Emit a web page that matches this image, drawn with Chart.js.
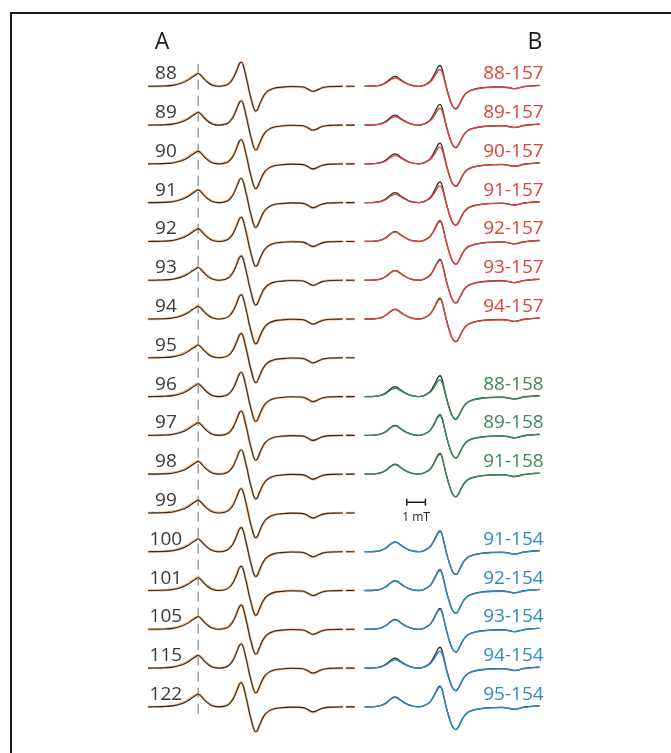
<!DOCTYPE html>
<html>
<head>
<meta charset="utf-8">
<script src="https://cdn.jsdelivr.net/npm/chart.js@4/dist/chart.umd.min.js"></script>
<style>
  html, body { margin: 0; padding: 0; background: #fff; width: 671px; height: 753px; overflow: hidden; }
  #frame { position: absolute; left: 10px; top: 12px; width: 720px; height: 800px;
           border-top: 2px solid #1c1c1c; border-left: 2px solid #1c1c1c; box-sizing: border-box; }
  #c { position: absolute; left: 0; top: 0; }
</style>
</head>
<body>
<div id="frame"></div>
<canvas id="c" width="671" height="753"></canvas>
<script>
// ---- Panel A: cysteine positions, spectra (black) with fits (orange) ----
const A_LABELS = ['88','89','90','91','92','93','94','95','96','97','98','99','100','101','105','115','122'];

// magnetic field axis (mT, relative to start of sweep)
const A_FIELD = [0.00,0.79,1.32,1.74,2.11,2.37,2.53,2.68,2.84,3.00,
                 3.21,3.42,3.63,3.84,4.05,4.26,4.42,4.58,4.74,4.89,
                 5.00,5.11,5.21,5.32,5.42,5.53,5.63,5.74,5.84,5.95,
                 6.11,6.26,6.47,6.74,7.11,7.63,8.16,8.42,8.63,8.79,
                 8.95,9.11,9.32,9.58,9.89,10.42, 10.50, 10.58,11.05];
// first-derivative EPR amplitude (a.u.); null marks the break in the trace
const A_SPECTRUM = [0,0.01,0.04,0.12,0.25,0.39,0.47,0.54,0.44,0.30,
                    0.15,0.05,0.01,0,0.02,0.08,0.19,0.38,0.67,0.96,
                    1.02,0.83,0.50,0.13,-0.25,-0.58,-0.88,-1.04,-1.00,-0.79,
                    -0.50,-0.31,-0.17,-0.08,-0.04,-0.01,-0.02,-0.06,-0.15,-0.21,
                    -0.19,-0.13,-0.06,-0.02,-0.01,0, null, 0,0];
const A_FIT = [0,0.01,0.05,0.14,0.28,0.42,0.50,0.55,0.47,0.33,
               0.18,0.07,0.02,0.01,0.03,0.09,0.21,0.40,0.70,0.99,
               1.04,0.86,0.53,0.15,-0.24,-0.58,-0.89,-1.06,-1.02,-0.82,
               -0.52,-0.33,-0.18,-0.09,-0.04,-0.01,-0.02,-0.07,-0.16,-0.22,
               -0.20,-0.13,-0.06,-0.02,-0.01,0, null, 0,0];
const A_MARKER_FIELD = 2.68;   // dashed reference at the low-field peak

// ---- Panel B: spin-label pairs, sum of singles (black) vs. double mutant ----
const B_LABELS = ['88-157','89-157','90-157','91-157','92-157','93-157','94-157',
                  '88-158','89-158','91-158',
                  '91-154','92-154','93-154','94-154','95-154'];
const B_ROWS   = [0,1,2,3,4,5,6, 8,9,10, 12,13,14,15,16];
const B_GROUP  = ['r','r','r','r','r','r','r', 'g','g','g', 'b','b','b','b','b'];
const B_SHAPE  = ['low','low','low','low','close','close','close',
                  'low','close','close', 'close','close','close','low','close'];
const B_FIELD = [0.00,0.53,0.89,1.16,1.37,1.53,1.63,1.74,1.89,2.11,
                 2.37,2.63,2.89,3.16,3.37,3.53,3.68,3.84,3.95,4.05,
                 4.16,4.26,4.37,4.47,4.58,4.68,4.79,4.89,5.00,5.16,
                 5.32,5.53,5.84,6.32,6.84,7.37,7.68,7.89,8.05,8.21,
                 8.47,8.79,9.11,9.37];
const B_SUM = [0,0.01,0.06,0.17,0.31,0.40,0.42,0.40,0.31,0.19,
               0.08,0.02,0,0.04,0.13,0.23,0.42,0.67,0.83,0.88,
               0.71,0.38,0,-0.29,-0.58,-0.79,-0.92,-0.96,-0.88,-0.63,
               -0.40,-0.23,-0.13,-0.06,-0.03,-0.02,-0.05,-0.09,-0.10,-0.08,
               -0.02,0.01,0.03,0.04];
const B_DOUBLE_LOW = [0,0.01,0.05,0.14,0.26,0.33,0.35,0.34,0.27,0.17,
                      0.07,0.02,0,0.03,0.11,0.19,0.34,0.54,0.68,0.71,
                      0.58,0.30,-0.04,-0.33,-0.60,-0.79,-0.91,-0.94,-0.86,-0.62,
                      -0.40,-0.24,-0.14,-0.07,-0.04,-0.03,-0.06,-0.09,-0.10,-0.08,
                      -0.03,0,0.02,0.03];
const B_DOUBLE_CLOSE = [0,0.01,0.06,0.16,0.30,0.38,0.40,0.38,0.30,0.18,
                        0.08,0.02,0,0.04,0.12,0.22,0.40,0.64,0.79,0.84,
                        0.68,0.36,-0.01,-0.30,-0.58,-0.79,-0.92,-0.96,-0.88,-0.63,
                        -0.41,-0.24,-0.14,-0.07,-0.04,-0.03,-0.05,-0.09,-0.10,-0.08,
                        -0.03,0.01,0.03,0.04];
const SCALE_BAR_MT = [2.26, 3.26];

// ---- layout & style ----
const ROW_STEP = 1.64;          // vertical offset between stacked spectra (a.u.)
const PX_PER_MT = 19;
const PX_PER_UNIT = 24;
const A_LEFT = 145, B_LEFT = 365, TOP_BASE = 82;
const W = 671, H = 753;
const GROUP_COLORS = { r: '#de443c', g: '#3c8a5a', b: '#2c8bc6' };
const FONT = '"Open Sans", "DejaVu Sans", sans-serif';

function trace(field, amp, offset) {
  return field.map((f, i) => ({ x: f, y: amp[i] === null ? null : amp[i] + offset }));
}

const datasets = [];
const base = { type: 'scatter', showLine: true, pointRadius: 0, fill: false,
               cubicInterpolationMode: 'monotone', spanGaps: false };

A_LABELS.forEach((lab, i) => {
  const off = -i * ROW_STEP;
  datasets.push(Object.assign({}, base, { xAxisID: 'xA', order: 1,
    data: trace(A_FIELD, A_SPECTRUM, off), borderColor: '#2e2c2a', borderWidth: 1.1 }));
  datasets.push(Object.assign({}, base, { xAxisID: 'xA', order: 3,
    data: trace(A_FIELD, A_FIT, off), borderColor: '#f3b47e', borderWidth: 2.3 }));
});

B_LABELS.forEach((lab, k) => {
  const off = -B_ROWS[k] * ROW_STEP;
  const dbl = B_SHAPE[k] === 'low' ? B_DOUBLE_LOW : B_DOUBLE_CLOSE;
  datasets.push(Object.assign({}, base, { xAxisID: 'xB', order: 3,
    data: trace(B_FIELD, B_SUM, off), borderColor: '#2f2f2f', borderWidth: 1.3 }));
  datasets.push(Object.assign({}, base, { xAxisID: 'xB', order: 1,
    data: trace(B_FIELD, dbl, off), borderColor: GROUP_COLORS[B_GROUP[k]], borderWidth: 1.4 }));
});

// dashed reference line through panel A
datasets.push({ type: 'scatter', showLine: true, xAxisID: 'xA', order: 5, pointRadius: 0,
  data: [{ x: A_MARKER_FIELD, y: 0.95 }, { x: A_MARKER_FIELD, y: -(A_LABELS.length - 1) * ROW_STEP - 0.45 }],
  borderColor: '#959595', borderWidth: 1.4, borderDash: [10, 6] });

// 1 mT scale bar
const barY = -11 * ROW_STEP + 0.45;
datasets.push({ type: 'scatter', showLine: true, xAxisID: 'xB', order: 0,
  data: [{ x: SCALE_BAR_MT[0], y: barY }, { x: SCALE_BAR_MT[1], y: barY }],
  borderColor: '#222', borderWidth: 1.5, pointStyle: 'line', pointRotation: 90,
  pointRadius: 3.5, pointBorderWidth: 1.5, pointBorderColor: '#222' });

const textPlugin = {
  id: 'panelText',
  afterDatasetsDraw(chart) {
    const { ctx, scales } = chart;
    const xA = scales.xA, xB = scales.xB, y = scales.y;
    ctx.save();
    ctx.textBaseline = 'alphabetic';
    // panel letters
    ctx.font = '23px ' + FONT;
    ctx.fillStyle = '#1a1a1a';
    ctx.textAlign = 'center';
    ctx.fillText('A', xA.getPixelForValue(0.75), 49);
    ctx.fillText('B', xB.getPixelForValue(9.12), 49);
    // position labels
    ctx.font = '19px ' + FONT;
    ctx.fillStyle = '#3a3a3a';
    A_LABELS.forEach((t, i) => {
      ctx.fillText(t, xA.getPixelForValue(0.95), y.getPixelForValue(-i * ROW_STEP) - 7);
    });
    ctx.textAlign = 'right';
    B_LABELS.forEach((t, k) => {
      ctx.fillStyle = GROUP_COLORS[B_GROUP[k]];
      ctx.fillText(t, xB.getPixelForValue(B_FIELD[B_FIELD.length - 1]) + 4,
                   y.getPixelForValue(-B_ROWS[k] * ROW_STEP) - 7);
    });
    // scale bar caption
    ctx.textAlign = 'center';
    ctx.font = '12px ' + FONT;
    ctx.fillStyle = '#222';
    ctx.fillText('1 mT', xB.getPixelForValue((SCALE_BAR_MT[0] + SCALE_BAR_MT[1]) / 2),
                 y.getPixelForValue(barY) + 19);
    ctx.restore();
  }
};

new Chart(document.getElementById('c'), {
  type: 'scatter',
  data: { datasets },
  options: {
    responsive: false, animation: false, devicePixelRatio: 1,
    layout: { padding: 0 },
    plugins: { legend: { display: false }, tooltip: { enabled: false } },
    scales: {
      xA: { type: 'linear', axis: 'x', display: false,
            min: -A_LEFT / PX_PER_MT, max: (W - A_LEFT) / PX_PER_MT },
      xB: { type: 'linear', axis: 'x', display: false,
            min: -B_LEFT / PX_PER_MT, max: (W - B_LEFT) / PX_PER_MT },
      y:  { type: 'linear', display: false,
            min: -(H - TOP_BASE) / PX_PER_UNIT, max: TOP_BASE / PX_PER_UNIT }
    }
  },
  plugins: [textPlugin]
});
</script>
</body>
</html>
